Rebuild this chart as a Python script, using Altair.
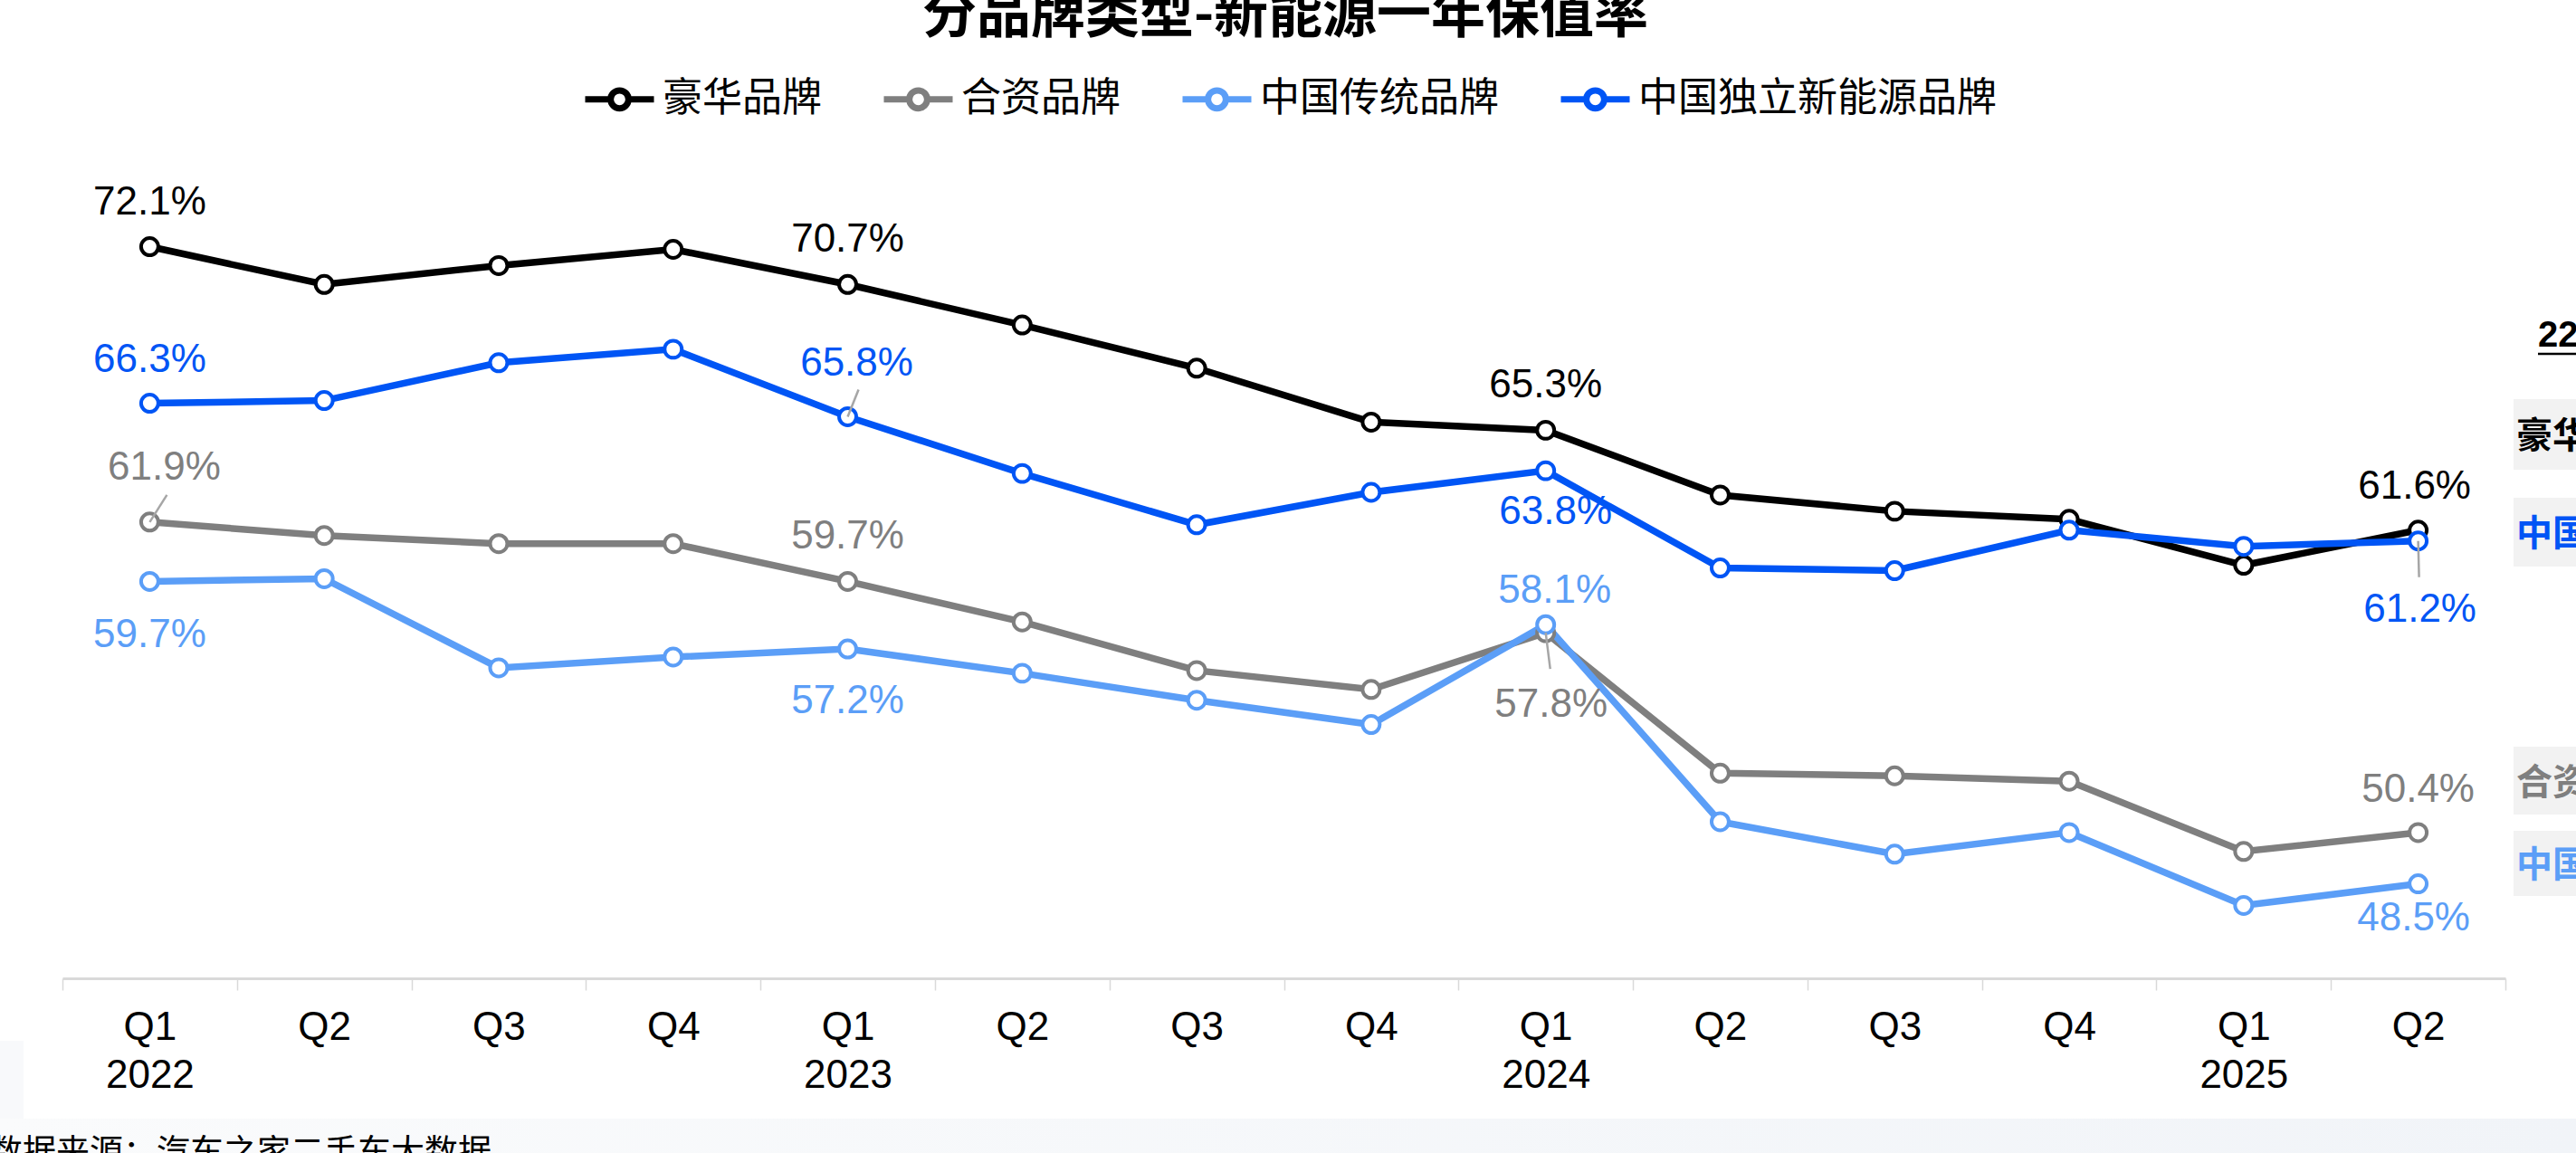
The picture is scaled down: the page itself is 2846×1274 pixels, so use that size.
import altair as alt
import pandas as pd

# ---------------- data ----------------
years = ["2022", "2022", "2022", "2022", "2023", "2023", "2023", "2023",
         "2024", "2024", "2024", "2024", "2025", "2025"]
quarters = ["Q1", "Q2", "Q3", "Q4", "Q1", "Q2", "Q3", "Q4",
            "Q1", "Q2", "Q3", "Q4", "Q1", "Q2"]
series_names = ["豪华品牌", "合资品牌", "中国传统品牌", "中国独立新能源品牌"]
series_colors = ["#000000", "#7f7f7f", "#5b9ef7", "#0055f5"]
luxury = [72.1, 70.7, 71.4, 72.0, 70.7, 69.2, 67.6, 65.6, 65.3, 62.9, 62.3, 62.0, 60.3, 61.6]
joint = [61.9, 61.4, 61.1, 61.1, 59.7, 58.2, 56.4, 55.7, 57.8, 52.6, 52.5, 52.3, 49.7, 50.4]
cn_trad = [59.7, 59.8, 56.5, 56.9, 57.2, 56.3, 55.3, 54.4, 58.1, 50.8, 49.6, 50.4, 47.7, 48.5]
cn_nev = [66.3, 66.4, 67.8, 68.3, 65.8, 63.7, 61.8, 63.0, 63.8, 60.2, 60.1, 61.6, 61.0, 61.2]
title_text = "分品牌类型-新能源一年保值率"
source_text = "数据来源：汽车之家二手车大数据"
side_header = "22Q2-25Q2"

keys = [f"{y}|{q}" for y, q in zip(years, quarters)]
values_by_series = [luxury, joint, cn_trad, cn_nev]
rows = []
for si, (name, vals) in enumerate(zip(series_names, values_by_series)):
    for k, v in zip(keys, vals):
        rows.append({"key": k, "series": name, "order": si, "value": v})
df = pd.DataFrame(rows)

# ---------------- layout / style ----------------
W, H = 2699, 895
PAD_L, PAD_T = 69, 186
TOTAL_W, TOTAL_H = 2846, 1274
FONT_NUM = "Liberation Sans, Arial, Noto Sans CJK SC"
FONT_CJK = "Noto Sans CJK SC"

label_expr = ("split(datum.value,'|')[1] == 'Q1' ? "
              "[split(datum.value,'|')[1], split(datum.value,'|')[0]] : "
              "split(datum.value,'|')[1]")

x_enc = alt.X(
    "key:N", sort=keys, bandPosition=0.5,
    scale=alt.Scale(type="band", paddingInner=0, paddingOuter=0),
    axis=alt.Axis(
        title=None, labelExpr=label_expr, labelAngle=0, tickBand="extent",
        domainColor="#d9d9d9", domainWidth=3, tickColor="#d9d9d9", tickWidth=1.5,
        tickSize=13, labelFontSize=44, labelFont=FONT_NUM, labelColor="#000000",
        labelPadding=19, labelLineHeight=53, labelBaseline="top", labelOverlap=False,
        grid=False,
    ),
)
y_enc = alt.Y("value:Q", scale=alt.Scale(domain=[45, 75], nice=False, zero=False), axis=None)
color_scale = alt.Scale(domain=series_names, range=series_colors)

legend_path = ("M-1,0L-0.26,0M0.26,0L1,0M0.26,0A0.26,0.26,0,1,1,-0.26,0"
               "A0.26,0.26,0,1,1,0.26,0Z")
legend = alt.Legend(
    title=None, orient="none", legendX=574, legendY=-118, direction="horizontal",
    columns=4, padding=0, symbolType=legend_path, symbolSize=5776,
    symbolStrokeWidth=7, symbolFillColor="white", symbolOpacity=1,
    labelFontSize=44, labelFont=FONT_CJK, labelColor="#000000", labelOffset=6,
    columnPadding=54, labelLimit=1000,
)

# ---------------- decorative background ----------------
one = pd.DataFrame({"t": [0]})
bottom_band = alt.Chart(one).mark_rect(
    color=alt.Gradient(gradient="linear", x1=0, x2=1, y1=0, y2=0,
                       stops=[alt.GradientStop(color="#fafbfc", offset=0),
                              alt.GradientStop(color="#f1f4f8", offset=1)])
).encode(x=alt.value(-PAD_L), x2=alt.value(TOTAL_W - PAD_L),
         y=alt.value(1236 - PAD_T), y2=alt.value(TOTAL_H - PAD_T))
left_strip = alt.Chart(one).mark_rect(color="#f8f9fb").encode(
    x=alt.value(-PAD_L), x2=alt.value(26 - PAD_L),
    y=alt.value(1150 - PAD_T), y2=alt.value(1236 - PAD_T))

# ---------------- data marks ----------------
lines = alt.Chart(df).mark_line(strokeWidth=7.5).encode(
    x=x_enc, y=y_enc,
    color=alt.Color("series:N", sort=series_names, scale=color_scale, legend=legend),
    order=alt.Order("order:Q"),
)
points = alt.Chart(df).mark_point(
    shape="circle", filled=True, fill="white", size=360, strokeWidth=4, opacity=1
).encode(
    x=x_enc, y=y_enc,
    stroke=alt.Stroke("series:N", scale=color_scale, legend=None),
    order=alt.Order("order:Q"),
)

# label placements: (series index, period index, dx, dy)
label_specs = [
    (0, 0, 0, -49), (0, 4, 0, -49), (0, 8, 0, -49), (0, 13, -4, -48),
    (1, 0, 16, -60), (1, 4, 0, -49), (1, 8, 6, 80), (1, 13, 0, -47),
    (2, 0, 0, 60), (2, 4, 0, 58), (2, 8, 10, -37), (2, 13, -5, 38),
    (3, 0, 0, -48), (3, 4, 10, -58), (3, 8, 11, 46), (3, 13, 2, 76),
]
label_layers = []
for si, pi, dx, dy in label_specs:
    label_layers.append(
        alt.Chart(df).transform_filter(
            (alt.datum.series == series_names[si]) & (alt.datum.key == keys[pi])
        ).transform_calculate(
            label="format(datum.value, '.1f') + '%'"
        ).mark_text(
            font=FONT_NUM, fontSize=44, color=series_colors[si], dx=dx, dy=dy,
            baseline="middle", align="center"
        ).encode(x=x_enc, y=y_enc, text="label:N")
    )

# leader lines: (series index, period index, end dx, end dy)
leader_specs = [(1, 0, 19, -30), (3, 4, 12, -30), (1, 8, 5, 40), (3, 13, 1, 40)]
leader_layers = []
for si, pi, ex, ey in leader_specs:
    leader_layers.append(
        alt.Chart(df).transform_filter(
            (alt.datum.series == series_names[si]) & (alt.datum.key == keys[pi])
        ).mark_rule(color="#a6a6a6", strokeWidth=2.5, x2Offset=ex, y2Offset=ey).encode(
            x=x_enc, y=y_enc,
            x2=alt.X2("key", bandPosition=0.5), y2=alt.Y2("value"),
        )
    )

# ---------------- texts ----------------
title = alt.Chart(pd.DataFrame({"t": [title_text]})).mark_text(
    font=FONT_CJK, fontSize=60, fontWeight="bold", color="#000000",
    align="center", baseline="alphabetic"
).encode(x=alt.value(1420 - PAD_L), y=alt.value(36 - PAD_T), text="t:N")

source = alt.Chart(pd.DataFrame({"t": [source_text]})).mark_text(
    font=FONT_CJK, fontSize=37, color="#000000", align="left", baseline="alphabetic"
).encode(x=alt.value(-12 - PAD_L), y=alt.value(1286 - PAD_T), text="t:N")

side_head = alt.Chart(pd.DataFrame({"t": [side_header]})).mark_text(
    font=FONT_NUM, fontSize=40, fontWeight="bold", color="#000000",
    align="left", baseline="alphabetic"
).encode(x=alt.value(2804 - PAD_L), y=alt.value(383 - PAD_T), text="t:N")
side_line = alt.Chart(one).mark_rule(color="#000000", strokeWidth=2.5).encode(
    x=alt.value(2804 - PAD_L), x2=alt.value(TOTAL_W - PAD_L + 20),
    y=alt.value(391 - PAD_T))

side_boxes_y = [(441, 519), (550, 626), (825, 900), (918, 990)]
side_series = [0, 3, 1, 2]
side_layers = []
for (y0, y1), si in zip(side_boxes_y, side_series):
    side_layers.append(
        alt.Chart(one).mark_rect(color="#f2f2f2").encode(
            x=alt.value(2777 - PAD_L), x2=alt.value(TOTAL_W - PAD_L + 20),
            y=alt.value(y0 - PAD_T), y2=alt.value(y1 - PAD_T))
    )
    side_layers.append(
        alt.Chart(pd.DataFrame({"t": [series_names[si]]})).mark_text(
            font=FONT_CJK, fontSize=40, fontWeight="bold", color=series_colors[si],
            align="left", baseline="middle"
        ).encode(x=alt.value(2780 - PAD_L), y=alt.value((y0 + y1) / 2 + 3 - PAD_T), text="t:N")
    )

chart = alt.layer(
    bottom_band, left_strip, lines, points, *leader_layers, *label_layers,
    title, source, side_head, side_line, *side_layers,
).properties(
    width=W, height=H,
    autosize=alt.AutoSizeParams(type="none"),
    padding={"left": PAD_L, "top": PAD_T, "right": TOTAL_W - PAD_L - W,
             "bottom": TOTAL_H - PAD_T - H},
    background="white",
).configure_view(stroke=None)

chart.save("out.html", embed_options={"renderer": "svg", "actions": False})
